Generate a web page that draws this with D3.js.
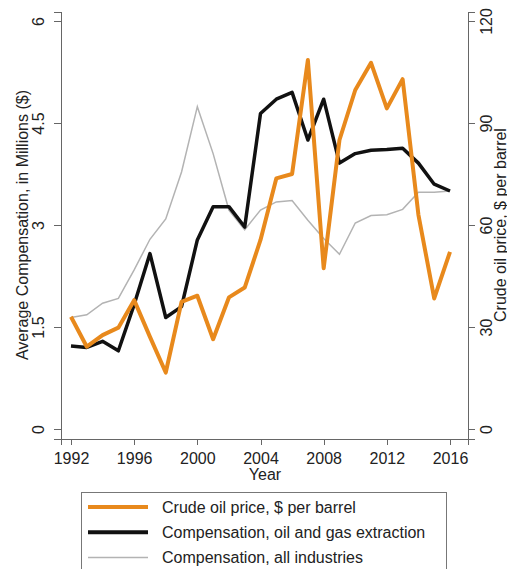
<!DOCTYPE html>
<meta charset="utf-8">
<head>
  <title>Oil price and compensation</title>
</head>

<style>
body {
  margin: 0;
  background: #fff;
  font-family: Arial, "Liberation Sans", Helvetica, sans-serif;
}
.axis path, .axis line {
  stroke: #666;
  shape-rendering: crispEdges;
}
.axis text {
  font-size: 16px;
  fill: #222;
}
.title {
  font-size: 16px;
  fill: #222;
}
.legend text {
  font-size: 16px;
  fill: #222;
}
</style>

<body>
  <svg width="507" height="569"></svg>

  <script src="https://cdnjs.cloudflare.com/ajax/libs/d3/7.8.5/d3.min.js"></script>
  <script>
    // data
    var years = d3.range(1992, 2017);
    var oilPrice = [33.0, 24.2, 27.6, 29.8, 37.9, 27.1, 16.6, 37.4, 39.2, 26.4, 38.7, 41.6, 55.6,
                    73.7, 75.0, 108.5, 47.3, 85.0, 99.7, 107.7, 94.3, 102.9, 63.0, 38.4, 52.1];
    var compOilGas = [1.22, 1.20, 1.29, 1.15, 1.83, 2.58, 1.64, 1.80, 2.78, 3.27, 3.27, 2.97, 4.64,
                      4.85, 4.95, 4.25, 4.85, 3.91, 4.05, 4.10, 4.11, 4.13, 3.91, 3.60, 3.50];
    var compAll = [1.64, 1.68, 1.85, 1.92, 2.34, 2.79, 3.09, 3.78, 4.74, 4.05, 3.22, 2.93, 3.22,
                   3.34, 3.36, 3.07, 2.80, 2.57, 3.03, 3.14, 3.15, 3.23, 3.48, 3.48, 3.50];

    var xTicks = [1992, 1996, 2000, 2004, 2008, 2012, 2016];
    var leftTicks = [0, 1.5, 3, 4.5, 6];
    var rightTicks = [0, 30, 60, 90, 120];

    var legendLabels = ["Crude oil price, $ per barrel",
                        "Compensation, oil and gas extraction",
                        "Compensation, all industries"];
    var legendColors = ["#e8891c", "#111", "#b3b3b3"];
    var legendWidths = [4, 4, 1.5];

    var svg = d3.select("svg");

    // plot frame: left 61, right 468, bottom 439, top 12
    var x = d3.scaleLinear()
      .domain([1992 - 10 / 15.8, 2016 + 18 / 15.8])
      .range([61, 468]);
    var yL = d3.scaleLinear()
      .domain([-10 / 68, 417 / 68])
      .range([439, 12]);
    var yR = d3.scaleLinear()
      .domain([-10 / 3.4, 417 / 3.4])
      .range([439, 12]);

    // axes
    var gx = svg.append("g").attr("class", "axis")
      .attr("transform", "translate(0,439)")
      .call(d3.axisBottom(x).tickValues(xTicks).tickFormat(d3.format("d")).tickSizeOuter(0).tickSize(6));
    gx.selectAll("text").attr("y", 25).attr("dy", 0);

    var gl = svg.append("g").attr("class", "axis")
      .attr("transform", "translate(61,0)")
      .call(d3.axisLeft(yL).tickValues(leftTicks).tickFormat(d => d).tickSizeOuter(0).tickSize(7));
    gl.selectAll("text")
      .attr("transform", "rotate(-90)")
      .attr("x", 0).attr("y", -17).attr("dy", 0)
      .style("text-anchor", "middle");

    var gr = svg.append("g").attr("class", "axis")
      .attr("transform", "translate(468,0)")
      .call(d3.axisRight(yR).tickValues(rightTicks).tickSizeOuter(0).tickSize(7));
    gr.selectAll("text")
      .attr("transform", "rotate(-90)")
      .attr("x", 0).attr("y", 24).attr("dy", 0)
      .style("text-anchor", "middle");

    // axis titles
    svg.append("text").attr("class", "title")
      .attr("transform", "translate(28,225) rotate(-90)")
      .attr("text-anchor", "middle")
      .text("Average Compensation, in Millions ($)");
    svg.append("text").attr("class", "title")
      .attr("transform", "translate(506,225) rotate(-90)")
      .attr("text-anchor", "middle")
      .text("Crude oil price, $ per barrel");
    svg.append("text").attr("class", "title")
      .attr("x", 265).attr("y", 480)
      .attr("text-anchor", "middle")
      .text("Year");

    // lines
    var lineL = d3.line().x((d, i) => x(years[i])).y(d => yL(d));
    var lineR = d3.line().x((d, i) => x(years[i])).y(d => yR(d));

    svg.append("path").datum(compAll)
      .attr("d", lineL)
      .attr("fill", "none").attr("stroke", legendColors[2]).attr("stroke-width", 1.5);
    svg.append("path").datum(compOilGas)
      .attr("d", lineL)
      .attr("fill", "none").attr("stroke", legendColors[1]).attr("stroke-width", 3.5)
      .attr("stroke-linejoin", "round");
    svg.append("path").datum(oilPrice)
      .attr("d", lineR)
      .attr("fill", "none").attr("stroke", legendColors[0]).attr("stroke-width", 4)
      .attr("stroke-linejoin", "round");

    // legend
    var legend = svg.append("g").attr("class", "legend");
    legend.append("rect")
      .attr("x", 81.5).attr("y", 492.5)
      .attr("width", 365).attr("height", 90)
      .attr("fill", "#fff").attr("stroke", "#777");
    var rows = legend.selectAll("g.row").data(legendLabels).enter()
      .append("g").attr("class", "row")
      .attr("transform", (d, i) => "translate(0," + (507 + i * 25.3) + ")");
    rows.append("line")
      .attr("x1", 88).attr("x2", 148)
      .attr("stroke", (d, i) => legendColors[i])
      .attr("stroke-width", (d, i) => legendWidths[i]);
    rows.append("text")
      .attr("x", 162).attr("y", 5.5)
      .text(d => d);
  </script>
</body>
</html>
